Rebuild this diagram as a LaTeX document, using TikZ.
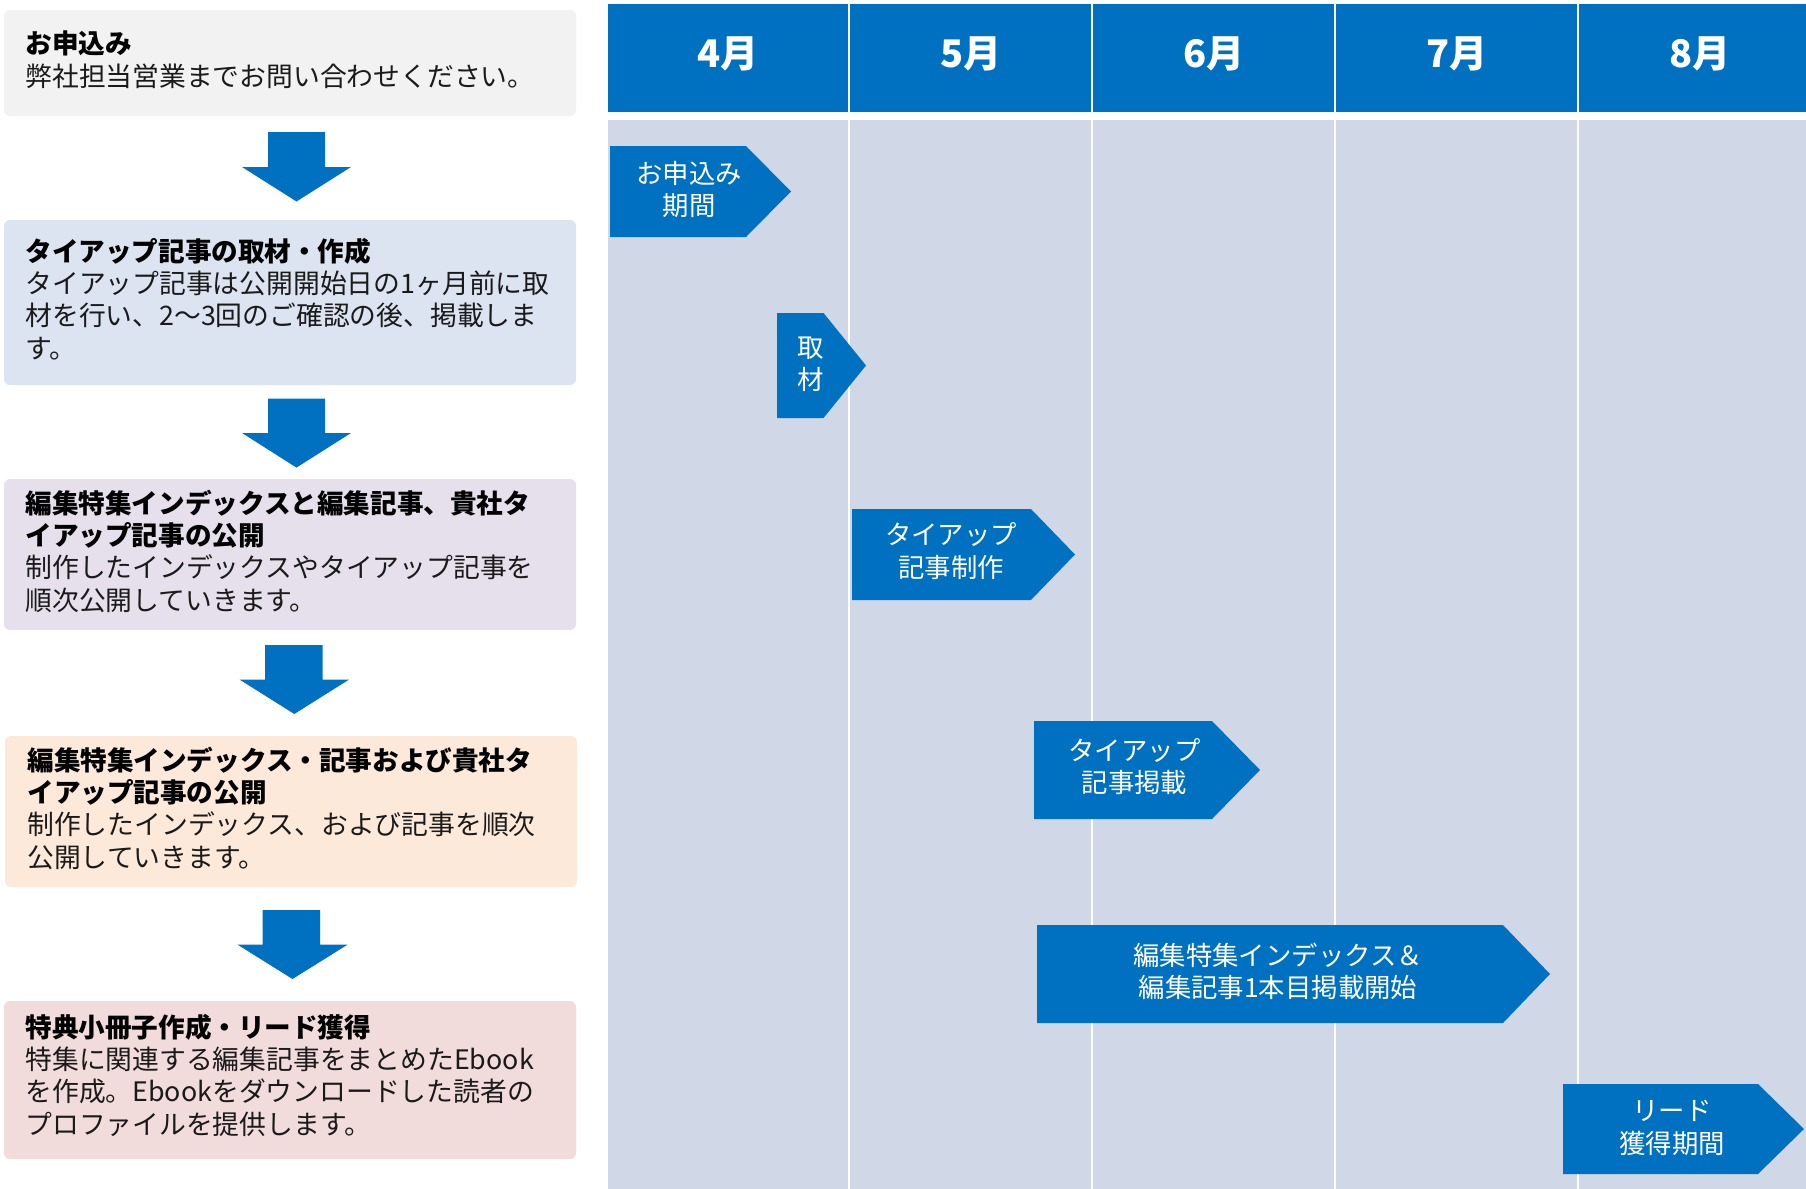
\documentclass[tikz,border=0pt]{standalone}
\usepackage{fontspec}
\newfontfamily\jp{Noto Sans CJK JP}
\definecolor{mblue}{HTML}{0070C0}
\definecolor{tlbg}{HTML}{D0D8E8}
\definecolor{cA}{HTML}{F2F2F2}
\definecolor{cB}{HTML}{DCE4F1}
\definecolor{cC}{HTML}{E5E0EC}
\definecolor{cD}{HTML}{FDE9D9}
\definecolor{cE}{HTML}{F2DCDB}
\definecolor{txt}{HTML}{1A1A1A}
\begin{document}
\begin{tikzpicture}[x=0.5pt,y=-0.5pt,
  lt/.style={anchor=base west, inner sep=0pt, text=txt, font=\jp\fontsize{13.4}{16}\selectfont},
  ltb/.style={anchor=base west, inner sep=0pt, text=black, font=\jp\bfseries\fontsize{13.3}{16}\selectfont},
  gt/.style={anchor=base, inner sep=0pt, text=white, font=\jp\fontsize{13.2}{16}\selectfont},
  mon/.style={inner sep=0pt, text=white, font=\jp\bfseries\fontsize{19}{22}\selectfont},
  boxbg/.style={rounded corners=3pt},
  darrow/.style={fill=mblue},
  gbar/.style={fill=mblue},
  sep/.style={draw=white, line width=1.3pt}
]
\useasboundingbox (0,0) rectangle (1806,1189);

% ---------- timeline background ----------
\fill[mblue] (608,3.5) rectangle (1806,112);
\fill[tlbg] (608,120) rectangle (1806,1189);
\foreach \x in {849,1092,1335,1578} \draw[sep] (\x,0) -- (\x,1189);
\draw[white, line width=4pt] (608,116) -- (1806,116);

\node[mon] (m4) at (728,54) {4月};
\node[mon] (m5) at (971,54) {5月};
\node[mon] (m6) at (1214,54) {6月};
\node[mon] (m7) at (1457,54) {7月};
\node[mon] (m8) at (1700,54) {8月};

% ---------- gantt bars ----------
\path[gbar] (610,146) -- (746,146) -- (791,191.5) -- (746,237) -- (610,237) -- cycle;
\node[gt] (g1a) at (689,183) {お申込み};
\node[gt] (g1b) at (689,215) {期間};

\path[gbar] (777,313) -- (823.5,313) -- (866,365.5) -- (823.5,418) -- (777,418) -- cycle;
\node[gt] (g2a) at (811,357) {取};
\node[gt] (g2b) at (811,389) {材};

\path[gbar] (852,509) -- (1031,509) -- (1075,554.5) -- (1031,600) -- (852,600) -- cycle;
\node[gt] (g3a) at (951,544) {タイアップ};
\node[gt] (g3b) at (951,577) {記事制作};

\path[gbar] (1034,721) -- (1212,721) -- (1260,770) -- (1212,819) -- (1034,819) -- cycle;
\node[gt] (g4a) at (1134.5,760) {タイアップ};
\node[gt] (g4b) at (1134.5,792) {記事掲載};

\path[gbar] (1037,925) -- (1503,925) -- (1550,974) -- (1503,1023) -- (1037,1023) -- cycle;
\node[gt] (g5a) at (1278,965) {編集特集インデックス＆};
\node[gt] (g5b) at (1278,997) {編集記事1本目掲載開始};

\path[gbar] (1563,1084) -- (1758,1084) -- (1804,1129) -- (1758,1174) -- (1563,1174) -- cycle;
\node[gt] (g6a) at (1672,1120) {リード};
\node[gt] (g6b) at (1672,1153) {獲得期間};

% ---------- left boxes ----------
\fill[boxbg, cA] (4,10) rectangle (576,116);
\fill[boxbg, cB] (4,220) rectangle (576,385);
\fill[boxbg, cC] (4,479) rectangle (576,630);
\fill[boxbg, cD] (5,736) rectangle (577,887);
\fill[boxbg, cE] (4,1001) rectangle (576,1159);

\node[ltb] (t1) at (25,53) {お申込み};
\node[lt] (t1a) at (25,86) {弊社担当営業までお問い合わせください。};

\node[ltb] (t2) at (25,261) {タイアップ記事の取材・作成};
\node[lt] (t2a) at (25,293.4) {タイアップ記事は公開開始日の1ヶ月前に取};
\node[lt] (t2b) at (25,325.8) {材を行い、2～3回のご確認の後、掲載しま};
\node[lt] (t2c) at (25,358.2) {す。};

\node[ltb] (t3) at (25,513) {編集特集インデックスと編集記事、貴社タ};
\node[ltb] (t3b) at (25,545.4) {イアップ記事の公開};
\node[lt] (t3c) at (25,577.8) {制作したインデックスやタイアップ記事を};
\node[lt] (t3d) at (25,610.2) {順次公開していきます。};

\node[ltb] (t4) at (27,770) {編集特集インデックス・記事および貴社タ};
\node[ltb] (t4b) at (27,802.4) {イアップ記事の公開};
\node[lt] (t4c) at (27,834.8) {制作したインデックス、および記事を順次};
\node[lt] (t4d) at (27,867.2) {公開していきます。};

\node[ltb] (t5) at (25,1037) {特典小冊子作成・リード獲得};
\node[lt] (t5a) at (25,1069.4) {特集に関連する編集記事をまとめたEbook};
\node[lt] (t5b) at (25,1101.8) {を作成。Ebookをダウンロードした読者の};
\node[lt] (t5c) at (25,1134.2) {プロファイルを提供します。};

% ---------- down arrows ----------
\path[darrow] (268,132) -- (325,132) -- (325,167) -- (351,167) -- (296.5,201.5) -- (242,167) -- (268,167) -- cycle;
\path[darrow] (268,398.5) -- (325,398.5) -- (325,433) -- (351,433) -- (296.5,467.6) -- (242,433) -- (268,433) -- cycle;
\path[darrow] (265,645) -- (322.5,645) -- (322.5,679.6) -- (349,679.6) -- (294.3,714) -- (239.6,679.6) -- (265,679.6) -- cycle;
\path[darrow] (262.6,910) -- (320.2,910) -- (320.2,944.5) -- (347.8,944.5) -- (292.5,979) -- (237.3,944.5) -- (262.6,944.5) -- cycle;
\end{tikzpicture}
\end{document}
